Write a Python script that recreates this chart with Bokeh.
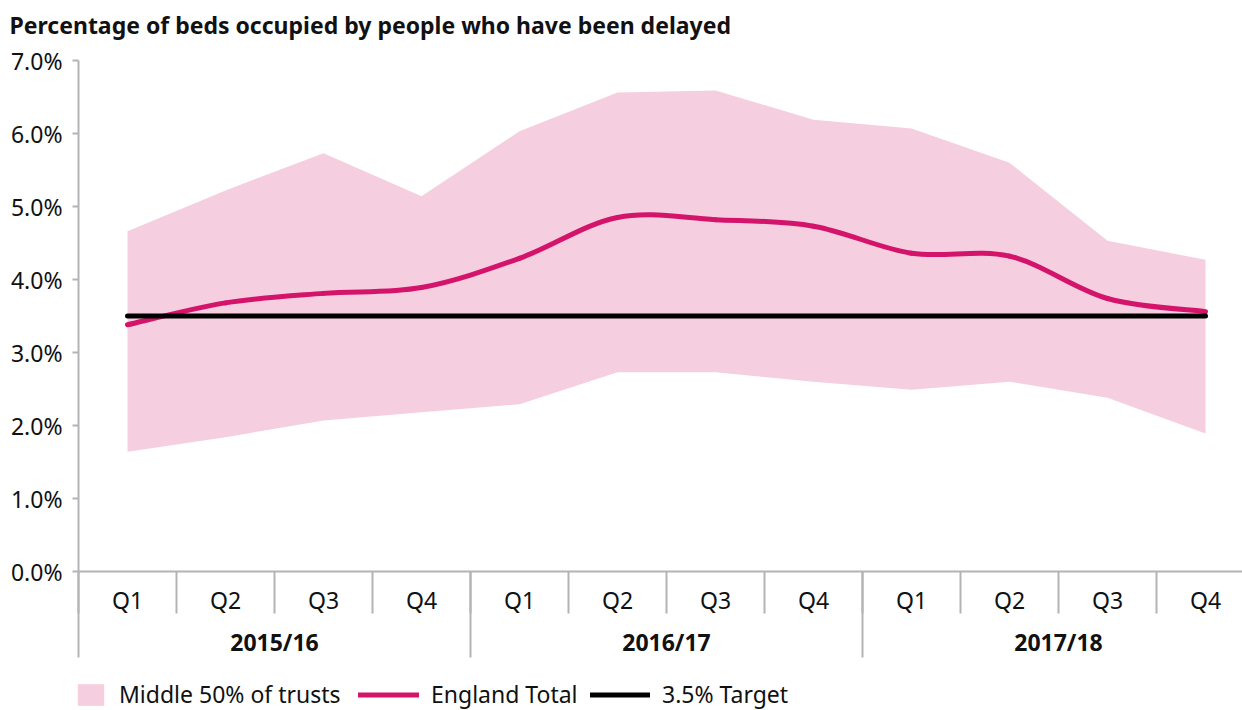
from bokeh.plotting import figure
from bokeh.models import (FixedTicker, LinearAxis, Range1d, Legend, LegendItem,
                          CustomJSTickFormatter, Label)
from bokeh.embed import file_html
from bokeh.resources import INLINE

# ---------------- data ----------------
title_text = "Percentage of beds occupied by people who have been delayed"
years = ["2015/16", "2016/17", "2017/18"]
quarters = ["Q1", "Q2", "Q3", "Q4"]
band_upper = [4.66, 5.22, 5.73, 5.14, 6.03, 6.56, 6.59, 6.19, 6.07, 5.60, 4.53, 4.27]
band_lower = [1.64, 1.84, 2.07, 2.18, 2.29, 2.73, 2.73, 2.60, 2.49, 2.60, 2.38, 1.89]
england_total = [3.38, 3.68, 3.81, 3.89, 4.29, 4.85, 4.82, 4.73, 4.36, 4.32, 3.74, 3.56]
target = [3.5] * 12
y_ticks = [0, 1, 2, 3, 4, 5, 6, 7]

FONT = "Noto Sans"
PINK_BAND = "#F5CEE0"
MAGENTA = "#D4146A"
GREY = "#B4B4B8"
TXT = "#111111"
FS = "23px"

n = len(england_total)
xs = [i + 0.5 for i in range(n)]

# layout in pixels -> ranges (98 px per quarter, 73 px per percentage point)
W, H = 1242, 710
X0_PX, Y0_PX, PX_X, PX_Y = 78, 571, 98.0, 73.0
x_lo, x_hi = -X0_PX / PX_X, (W - X0_PX) / PX_X
y_lo, y_hi = -(H - Y0_PX) / PX_Y, Y0_PX / PX_Y

p = figure(width=W, height=H, output_backend="svg", toolbar_location=None,
           x_range=Range1d(x_lo, x_hi), y_range=Range1d(y_lo, y_hi),
           min_border_left=0, min_border_right=0, min_border_top=0,
           min_border_bottom=0, x_axis_location=None)
p.outline_line_color = None
p.grid.visible = False
p.background_fill_color = "white"
p.border_fill_color = "white"

# title
p.add_layout(Label(x=x_lo + 9 / PX_X, y=y_hi - 24.5 / PX_Y, text=title_text,
                   text_font=FONT, text_font_size=FS, text_font_style="bold",
                   text_color=TXT, text_baseline="middle", text_align="left"))

# band
band = p.varea(x=xs, y1=band_lower, y2=band_upper, fill_color=PINK_BAND)

# smoothed England total via cubic Bezier segments (Catmull-Rom style)
pts = list(zip(xs, england_total))
x0s, y0s, x1s, y1s, cx0, cy0, cx1, cy1 = [], [], [], [], [], [], [], []
for i in range(n - 1):
    pa = pts[i - 1] if i > 0 else pts[i]
    pb = pts[i]
    pc = pts[i + 1]
    pd = pts[i + 2] if i + 2 < n else pts[i + 1]
    x0s.append(pb[0]); y0s.append(pb[1]); x1s.append(pc[0]); y1s.append(pc[1])
    cx0.append(pb[0] + (pc[0] - pa[0]) / 6); cy0.append(pb[1] + (pc[1] - pa[1]) / 6)
    cx1.append(pc[0] - (pd[0] - pb[0]) / 6); cy1.append(pc[1] - (pd[1] - pb[1]) / 6)
eng = p.bezier(x0=x0s, y0=y0s, x1=x1s, y1=y1s, cx0=cx0, cy0=cy0, cx1=cx1, cy1=cy1,
               line_color=MAGENTA, line_width=5, line_cap="round")

tgt = p.line(x=xs, y=target, line_color="black", line_width=5, line_cap="round")

# y axis drawn at x = 0 inside the frame
ya = p.yaxis[0]
ya.fixed_location = 0
ya.bounds = (0, 7)
ya.ticker = FixedTicker(ticks=y_ticks, minor_ticks=[])
ya.formatter = CustomJSTickFormatter(code="return tick.toFixed(1) + '%';")
ya.axis_line_color = GREY
ya.axis_line_width = 2
ya.major_tick_line_color = GREY
ya.major_tick_line_width = 2
ya.major_tick_out = 6
ya.major_tick_in = 0
ya.major_label_standoff = 10
ya.major_label_text_font = FONT
ya.major_label_text_font_size = FS
ya.major_label_text_color = TXT


def fixed_axis(ticks, overrides, standoff, bold=False, tick_len=0, line=False):
    ax = LinearAxis(fixed_location=0, ticker=FixedTicker(ticks=ticks, minor_ticks=[]),
                    major_label_overrides=overrides)
    ax.axis_line_color = GREY if line else None
    ax.axis_line_width = 2
    ax.minor_tick_line_color = None
    if tick_len:
        ax.major_tick_line_color = GREY
        ax.major_tick_line_width = 2
        ax.major_tick_out = tick_len
    else:
        ax.major_tick_line_color = None
        ax.major_tick_out = 0
    ax.major_tick_in = 0
    ax.major_label_standoff = standoff
    ax.major_label_text_font = FONT
    ax.major_label_text_font_size = FS
    ax.major_label_text_font_style = "bold" if bold else "normal"
    ax.major_label_text_color = TXT
    if line:
        ax.bounds = (0, x_hi)
    p.add_layout(ax, "below")
    return ax


bounds_q = list(range(0, n + 1))
bounds_y = [0, 4, 8, 12]
# separators between quarters (short) and between years (long)
fixed_axis(bounds_q, {b: "" for b in bounds_q}, 0, tick_len=42, line=True)
fixed_axis(bounds_y, {b: "" for b in bounds_y}, 0, tick_len=86)
# quarter labels
fixed_axis(xs, {x: quarters[i % 4] for i, x in enumerate(xs)}, 12)
# year labels
yr_pos = [2.0, 6.0, 10.0]
fixed_axis(yr_pos, {x: years[i] for i, x in enumerate(yr_pos)}, 54, bold=True)


def add_legend(label, renderer, x_off, glyph_w):
    lg = Legend(items=[LegendItem(label=label, renderers=[renderer])],
                orientation="horizontal", location=(X0_PX + x_off, 0),
                label_text_font=FONT, label_text_font_size=FS, label_text_color=TXT,
                glyph_width=glyph_w, glyph_height=27, spacing=0, padding=0, margin=0,
                label_standoff=12, border_line_color=None, background_fill_alpha=0)
    p.add_layout(lg)


add_legend("Middle 50% of trusts", band, -4, 33)
add_legend("England Total", eng, 280, 61)
add_legend("3.5% Target", tgt, 512, 60)

open("out.html", "w").write(file_html(p, INLINE))
